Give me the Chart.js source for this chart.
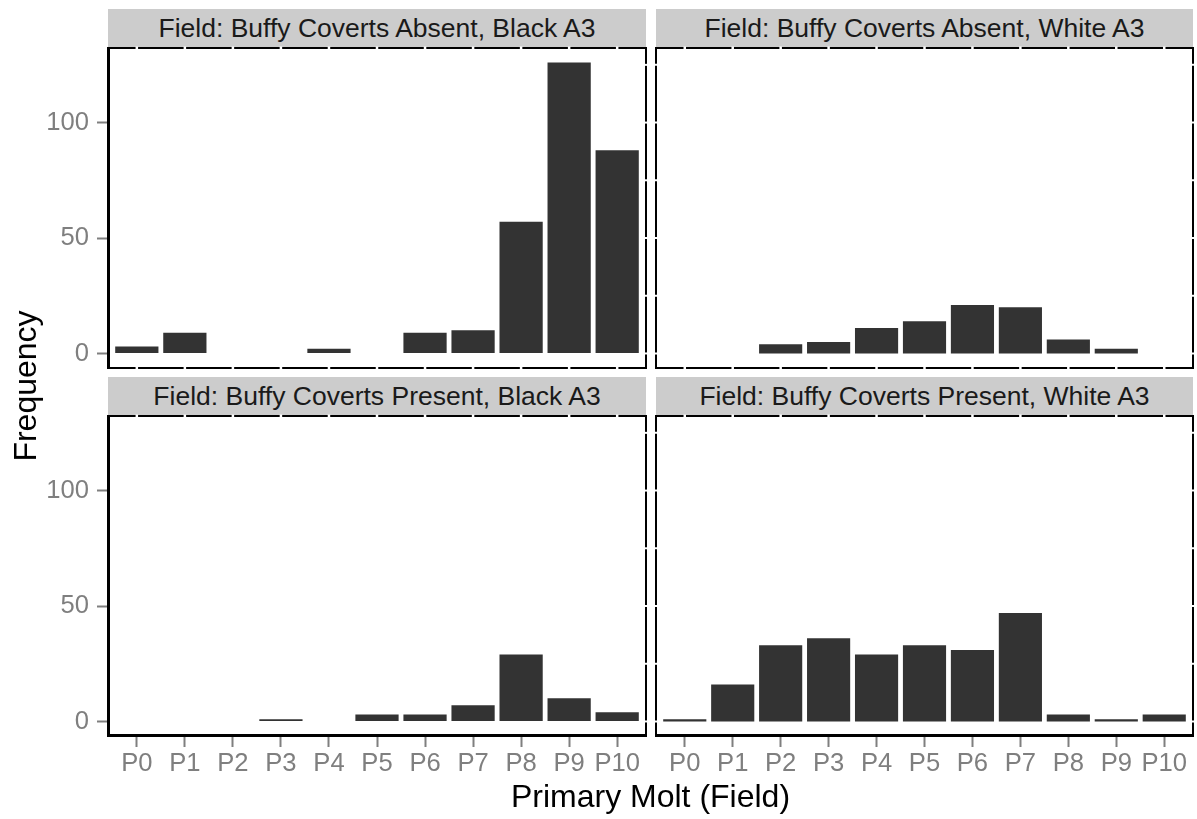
<!DOCTYPE html>
<html>
<head>
<meta charset="utf-8">
<script src="https://cdn.jsdelivr.net/npm/chart.js@4.4.1/dist/chart.umd.min.js"></script>
<style>
  html, body { margin: 0; padding: 0; background: #ffffff; }
  #page { position: relative; width: 1197px; height: 819px; overflow: hidden;
          font-family: "Liberation Sans", Arial, sans-serif; }
  .strip { position: absolute; background: #CCCCCC; color: #1A1A1A; font-size: 26.5px;
           display: flex; align-items: center; justify-content: center; white-space: nowrap; }
  canvas { position: absolute; }
  .axis-title { position: absolute; color: #000000; font-size: 32px; line-height: 32px;
                white-space: nowrap; text-align: center; }
</style>
</head>
<body>
<div id="page"></div>
<script>
// Primary molt stage categories and counts per facet
const categories = ['P0', 'P1', 'P2', 'P3', 'P4', 'P5', 'P6', 'P7', 'P8', 'P9', 'P10'];
const absentBlack  = [3, 9, null, null, 2, null, 9, 10, 57, 126, 88];
const absentWhite  = [null, null, 4, 5, 11, 14, 21, 20, 6, 2, null];
const presentBlack = [null, null, null, 1, null, 3, 3, 7, 29, 10, 4];
const presentWhite = [1, 16, 33, 36, 29, 33, 31, 47, 3, 1, 3];
const yTickValues  = [0, 50, 100];
const yGridValues  = [0, 25, 50, 75, 100, 125];
const facetTitles  = [
  'Field: Buffy Coverts Absent, Black A3',
  'Field: Buffy Coverts Absent, White A3',
  'Field: Buffy Coverts Present, Black A3',
  'Field: Buffy Coverts Present, White A3'
];
const xTitle = 'Primary Molt (Field)';
const yTitle = 'Frequency';

const FONT = '"Liberation Sans", Arial, sans-serif';
const TICK_GREY = '#7F7F7F';
const BAR_FILL = '#333333';

// shared y range: counts expanded by 5% on both sides
const allValues = [absentBlack, absentWhite, presentBlack, presentWhite].flat().filter(v => v !== null);
const yMaxData = Math.max(...allValues);
const yPad = yMaxData * 0.05;
const yMin = -yPad, yMax = yMaxData + yPad;

const panels = [
  { title: facetTitles[0], values: absentBlack,  left: 108, top: 48,  width: 538, height: 320, showX: false, showY: true },
  { title: facetTitles[1], values: absentWhite,  left: 656, top: 48,  width: 537, height: 320, showX: false, showY: false },
  { title: facetTitles[2], values: presentBlack, left: 108, top: 416, width: 538, height: 320, showX: true,  showY: true },
  { title: facetTitles[3], values: presentWhite, left: 656, top: 416, width: 537, height: 320, showX: true,  showY: false }
];
const STRIP_H = 39;
const Y_AXIS_W = 108, X_AXIS_H = 60, PAD = 4;

// panel frame; white grid lines break it except where an outer axis line sits
const framePlugin = {
  id: 'panelFrame',
  afterDatasetsDraw(chart, args, opts) {
    const { ctx, chartArea: a, scales: { x, y } } = chart;
    ctx.save();
    ctx.strokeStyle = '#000000';
    ctx.lineWidth = 2;
    ctx.strokeRect(a.left, a.top, a.right - a.left, a.bottom - a.top);

    ctx.strokeStyle = '#FFFFFF';
    ctx.lineWidth = 2;
    yGridValues.forEach(v => {
      const py = y.getPixelForValue(v);
      ctx.beginPath();
      ctx.moveTo(a.right - 1.5, py);
      ctx.lineTo(a.right + 1.5, py);
      if (!opts.axisY) {
        ctx.moveTo(a.left - 1.5, py);
        ctx.lineTo(a.left + 1.5, py);
      }
      ctx.stroke();
    });
    ctx.lineWidth = 2.5;
    categories.forEach((c, i) => {
      const px = x.getPixelForValue(i);
      ctx.beginPath();
      ctx.moveTo(px, a.top - 1.5);
      ctx.lineTo(px, a.top + 1.5);
      if (!opts.axisX) {
        ctx.moveTo(px, a.bottom - 1.5);
        ctx.lineTo(px, a.bottom + 1.5);
      }
      ctx.stroke();
    });

    // outer axis lines
    ctx.strokeStyle = '#000000';
    ctx.lineWidth = 3;
    ctx.beginPath();
    if (opts.axisY) {
      ctx.moveTo(a.left + 0.5, a.top - 1);
      ctx.lineTo(a.left + 0.5, a.bottom + 1);
    }
    if (opts.axisX) {
      ctx.moveTo(a.left - 1, a.bottom - 0.5);
      ctx.lineTo(a.right + 1, a.bottom - 0.5);
    }
    ctx.stroke();
    ctx.restore();
  }
};

const page = document.getElementById('page');

panels.forEach(p => {
  const strip = document.createElement('div');
  strip.className = 'strip';
  strip.style.left = p.left + 'px';
  strip.style.top = (p.top - STRIP_H) + 'px';
  strip.style.width = p.width + 'px';
  strip.style.height = STRIP_H + 'px';
  strip.textContent = p.title;
  page.appendChild(strip);

  const canvas = document.createElement('canvas');
  const cw = p.width + Y_AXIS_W + PAD, ch = p.height + PAD + X_AXIS_H;
  canvas.width = cw; canvas.height = ch;
  canvas.style.width = cw + 'px'; canvas.style.height = ch + 'px';
  canvas.style.left = (p.left - Y_AXIS_W) + 'px';
  canvas.style.top = (p.top - PAD) + 'px';
  page.appendChild(canvas);

  new Chart(canvas, {
    type: 'bar',
    data: {
      datasets: [{
        data: p.values.map((v, i) => ({ x: i, y: v })),
        backgroundColor: BAR_FILL,
        borderWidth: 0,
        barPercentage: 0.9,
        categoryPercentage: 1.0
      }]
    },
    options: {
      responsive: false,
      animation: false,
      devicePixelRatio: 1,
      layout: { autoPadding: false, padding: { left: 0, top: PAD, right: PAD, bottom: 0 } },
      plugins: {
        legend: { display: false },
        tooltip: { enabled: false },
        panelFrame: { axisX: p.showX, axisY: p.showY }
      },
      scales: {
        x: {
          type: 'linear',
          offset: false,
          min: -0.6,
          max: categories.length - 1 + 0.6,
          afterBuildTicks: s => { s.ticks = categories.map((c, i) => ({ value: i })); },
          afterFit: s => { s.height = X_AXIS_H; s.paddingLeft = 0; s.paddingRight = 0; },
          border: { display: false },
          grid: { display: p.showX, offset: false, drawOnChartArea: false, drawTicks: true,
                  tickLength: 11, tickColor: TICK_GREY, tickWidth: 2 },
          ticks: { display: p.showX, color: TICK_GREY, font: { family: FONT, size: 25.6 },
                   padding: 2, maxRotation: 0, autoSkip: false,
                   callback: v => categories[v] }
        },
        y: {
          type: 'linear',
          min: yMin,
          max: yMax,
          afterBuildTicks: s => { s.ticks = yTickValues.map(v => ({ value: v })); },
          afterFit: s => { s.width = Y_AXIS_W; s.paddingTop = 0; s.paddingBottom = 0; },
          border: { display: false },
          grid: { display: p.showY, drawOnChartArea: false, drawTicks: true,
                  tickLength: 11, tickColor: TICK_GREY, tickWidth: 2 },
          ticks: { display: p.showY, color: TICK_GREY, font: { family: FONT, size: 25.6 },
                   padding: 8, callback: v => String(v) }
        }
      }
    },
    plugins: [framePlugin]
  });
});

// shared axis titles
const xt = document.createElement('div');
xt.className = 'axis-title';
xt.textContent = xTitle;
xt.style.width = '600px';
xt.style.left = (650.5 - 300) + 'px';
xt.style.top = '780px';
page.appendChild(xt);

const yt = document.createElement('div');
yt.className = 'axis-title';
yt.textContent = yTitle;
yt.style.width = '300px';
yt.style.height = '32px';
yt.style.left = (25 - 150) + 'px';
yt.style.top = (386 - 16) + 'px';
yt.style.transform = 'rotate(-90deg)';
page.appendChild(yt);
</script>
</body>
</html>
